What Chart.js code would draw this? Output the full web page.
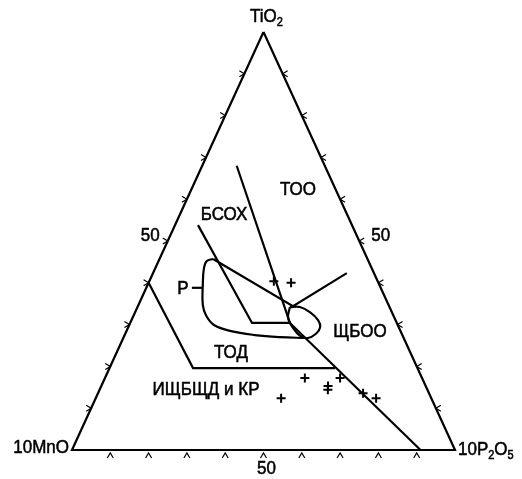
<!DOCTYPE html>
<html>
<head>
<meta charset="utf-8">
<script src="https://cdn.jsdelivr.net/npm/chart.js@4.4.0/dist/chart.umd.min.js"></script>
<style>
    html, body { margin: 0; padding: 0; background: #fff; }
    #wrap { width: 522px; height: 479px; }
</style>
</head>
<body>
<div id="wrap"><canvas id="ternary-chart"></canvas></div>
<script>
// every composition is [TiO2, 10MnO, 10P2O5] in percent
const triangle = [[100, 0, 0], [0, 100, 0], [0, 0, 100], [100, 0, 0]];

const tooLine = [[68, 23, 9], [30.4, 27.9, 41.7], [0, 9, 91]];
const bsoxLine = [[53.8, 40.2, 6], [30.4, 37.8, 31.8], [30.4, 27.9, 41.7]];
const upperLine = [[45.7, 40.3, 14], [34.4, 25.1, 40.5], [42.3, 7.1, 50.6]];
const todLine = [[40, 60, 0], [19.6, 58.6, 21.8], [19.6, 21.5, 58.9]];
const pDash = [[38.8, 49.3, 11.9], [38.8, 46.4, 14.8]];

const loopP = [
    [45.7, 40.3, 14.0], [45.2, 42.2, 12.6], [43.5, 43.8, 12.7], [39.5, 46.1, 14.4],
    [34.7, 48.5, 16.8], [32.1, 48.9, 19.0], [29.9, 48.0, 22.1], [28.5, 44.5, 27.0],
    [27.5, 38.5, 34.0], [27.0, 32.2, 40.8], [26.8, 25.5, 47.7]
];

const ovalShchboo = [
    [34.2, 26.0, 39.8], [34.2, 23.4, 42.4], [33.0, 21.4, 45.6], [31.1, 20.2, 48.7],
    [29.4, 20.5, 50.1], [27.8, 22.4, 49.8], [26.8, 25.0, 48.2], [27.3, 26.8, 45.9],
    [29.2, 27.7, 43.1], [31.6, 27.8, 40.6], [34.2, 26.0, 39.8]
];

const samples = [
    [40.4, 27.1, 32.5], [40.0, 22.8, 37.2], [17.2, 30.6, 52.2], [15.3, 25.5, 59.2],
    [14.4, 26.0, 59.6], [17.2, 21.4, 61.4], [13.6, 17.2, 69.2], [12.4, 14.4, 73.2],
    [12.4, 39.2, 48.4]
];

const tickValues = [10, 20, 30, 40, 50, 60, 70, 80, 90];
const tickLabel = "50";

const regionNames = ["ТОО", "БСОХ", "Р", "ЩБОО", "ТОД", "ИЩБЩД и КР"];
const regionPositions = [
    [62.2, 9.9, 27.9], [56.2, 32.2, 11.6], [38.5, 51.8, 9.7],
    [28.2, 10.7, 61.1], [23.2, 46.9, 29.9], [14.4, 57.8, 27.8]
];

function toXY(c) {
    return { x: c[2] + c[0] / 2, y: c[0] };
}

function lineSet(points, tension) {
    return {
        data: points.map(toXY),
        showLine: true,
        borderColor: "#000",
        borderWidth: 2.2,
        pointRadius: 0,
        tension: tension || 0,
        clip: false
    };
}

const FONT = "17px 'Liberation Sans', Arial, sans-serif";
const SUB_FONT = "11px 'Liberation Sans', Arial, sans-serif";
const STRETCH = 1.12;

// draws text made of parts, a part with sub:true is a subscript
function drawText(ctx, parts, x, y, align) {
    let width = 0;
    parts.forEach(p => {
        ctx.font = p.sub ? SUB_FONT : FONT;
        width += ctx.measureText(p.text).width;
    });
    let start = x;
    if (align === "center") start = x - width / 2;
    if (align === "right") start = x - width;

    ctx.save();
    ctx.translate(start, y);
    ctx.scale(1, STRETCH);
    ctx.textBaseline = "middle";
    ctx.textAlign = "left";
    ctx.lineWidth = 0.5;
    let cx = 0;
    parts.forEach(p => {
        ctx.font = p.sub ? SUB_FONT : FONT;
        const dy = p.sub ? 5 : 0;
        ctx.fillText(p.text, cx, dy);
        ctx.strokeText(p.text, cx, dy);
        cx += ctx.measureText(p.text).width;
    });
    ctx.restore();
}

const ternaryDecor = {
    id: "ternaryDecor",
    afterDatasetsDraw(chart) {
        const ctx = chart.ctx;
        const xs = chart.scales.x;
        const ys = chart.scales.y;
        const px = c => {
            const p = toXY(c);
            return [xs.getPixelForValue(p.x), ys.getPixelForValue(p.y)];
        };

        ctx.save();
        ctx.strokeStyle = "#000";
        ctx.fillStyle = "#000";
        ctx.lineWidth = 1.2;

        // chevron ticks on the three sides
        tickValues.forEach(v => {
            let [x, y] = px([v, 100 - v, 0]);
            ctx.beginPath();
            ctx.moveTo(x - 5, y - 3);
            ctx.lineTo(x, y);
            ctx.lineTo(x - 5, y + 3);
            ctx.stroke();

            [x, y] = px([v, 0, 100 - v]);
            ctx.beginPath();
            ctx.moveTo(x + 5, y - 3);
            ctx.lineTo(x, y);
            ctx.lineTo(x + 5, y + 3);
            ctx.stroke();

            [x, y] = px([0, 100 - v, v]);
            ctx.beginPath();
            ctx.moveTo(x - 3, y + 8);
            ctx.lineTo(x, y + 3);
            ctx.lineTo(x + 3, y + 8);
            ctx.stroke();
        });

        let [x, y] = px([50, 50, 0]);
        drawText(ctx, [{ text: tickLabel }], x - 8, y - 5, "right");
        [x, y] = px([50, 0, 50]);
        drawText(ctx, [{ text: tickLabel }], x + 12, y - 5, "left");
        [x, y] = px([0, 50, 50]);
        drawText(ctx, [{ text: tickLabel }], x + 3, y + 19, "center");

        // vertex names
        [x, y] = px([100, 0, 0]);
        drawText(ctx, [{ text: "TiO" }, { text: "2", sub: true }], x + 3, y - 15, "center");
        [x, y] = px([0, 100, 0]);
        drawText(ctx, [{ text: "10MnO" }], x - 3, y - 2, "right");
        [x, y] = px([0, 0, 100]);
        drawText(ctx, [{ text: "10P" }, { text: "2", sub: true }, { text: "O" }, { text: "5", sub: true }], x + 3, y, "left");

        // field names
        regionNames.forEach((name, i) => {
            const [lx, ly] = px(regionPositions[i]);
            drawText(ctx, [{ text: name }], lx, ly, "center");
        });

        ctx.restore();
    }
};

const chart = new Chart(document.getElementById("ternary-chart"), {
    type: "scatter",
    data: {
        datasets: [
            lineSet(triangle),
            lineSet(tooLine),
            lineSet(bsoxLine),
            lineSet(upperLine),
            lineSet(todLine),
            lineSet(pDash),
            lineSet(loopP, 0.4),
            lineSet(ovalShchboo, 0.4),
            {
                data: samples.map(toXY),
                showLine: false,
                pointStyle: "cross",
                pointRadius: 4.5,
                borderColor: "#000",
                borderWidth: 2,
                clip: false
            }
        ]
    },
    options: {
        responsive: true,
        maintainAspectRatio: false,
        animation: false,
        layout: { padding: { left: 72, right: 67, top: 32, bottom: 29 } },
        plugins: { legend: { display: false }, tooltip: { enabled: false } },
        scales: {
            x: { type: "linear", min: 0, max: 100, display: false },
            y: { type: "linear", min: 0, max: 100, display: false }
        }
    },
    plugins: [ternaryDecor]
});
</script>
</body>
</html>
